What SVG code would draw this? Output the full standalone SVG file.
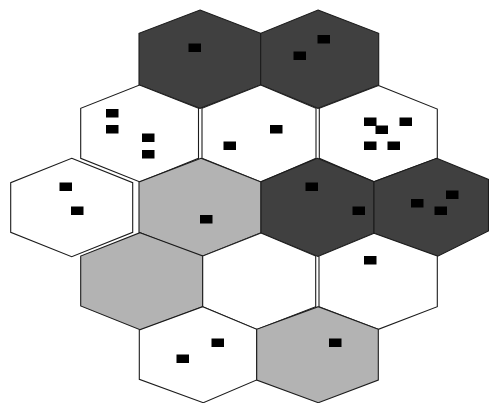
<svg xmlns="http://www.w3.org/2000/svg" width="489" height="403" viewBox="0 0 489 403">
<style>
.hex{stroke:#1c1c1c;stroke-width:1.1;stroke-linejoin:miter}
.dark{fill:#404040}
.gray{fill:#b3b3b3}
.white{fill:#ffffff}
.box{fill:#000000}
</style>
<rect width="489" height="403" fill="#ffffff"/>
<g id="hexA"><polygon class="hex dark" points="200,10 260.7,33.3 260.7,85 200,108.3 139,85 139,33.3"/>
<rect class="box" x="188.5" y="43.5" width="12.5" height="8.5"/></g>
<g id="hexB"><polygon class="hex dark" points="318,10 378.7,33.3 378.7,85 318,108.3 260.7,85 260.7,33.3"/>
<rect class="box" x="317.5" y="35" width="12.5" height="8.5"/>
<rect class="box" x="293.5" y="51.5" width="12.5" height="8.5"/></g>
<g id="hexC"><polygon class="hex white" points="139.5,85 198.5,108.3 198.5,158.3 140,182 80.7,158.3 80.7,108.3"/>
<rect class="box" x="106" y="109" width="12.5" height="8.5"/>
<rect class="box" x="106" y="125" width="12.5" height="8.5"/>
<rect class="box" x="142" y="133.5" width="12.5" height="8.5"/>
<rect class="box" x="142" y="150" width="12.5" height="8.5"/></g>
<g id="hexD"><polygon class="hex white" points="260.7,85 316,108.3 316,158.3 261,182 202,158.3 202,108.3"/>
<rect class="box" x="223.5" y="141.5" width="12.5" height="8.5"/>
<rect class="box" x="270" y="125" width="12.5" height="8.5"/></g>
<g id="hexE"><polygon class="hex white" points="378.5,85.5 437.3,109 437.3,158.3 374,181.7 319.3,158.3 319.3,108.3"/>
<rect class="box" x="364" y="117.5" width="12.5" height="8.5"/>
<rect class="box" x="399.5" y="117.5" width="12.5" height="8.5"/>
<rect class="box" x="375.5" y="125.5" width="12.5" height="8.5"/>
<rect class="box" x="364" y="141.5" width="12.5" height="8.5"/>
<rect class="box" x="387.5" y="141.5" width="12.5" height="8.5"/></g>
<g id="hexF"><polygon class="hex white" points="71.7,158.3 132.7,182.7 132.7,232.3 71.7,256.7 10.7,232.3 10.7,182.7"/>
<rect class="box" x="59.5" y="182.5" width="12.5" height="8.5"/>
<rect class="box" x="71" y="206.5" width="12.5" height="8.5"/></g>
<g id="hexG"><polygon class="hex gray" points="201,158.3 261,182 261,232.7 201,256.7 139,232.3 139,182"/>
<rect class="box" x="200" y="215" width="12.5" height="8.5"/></g>
<g id="hexH"><polygon class="hex dark" points="317.3,158.3 374,181.7 374,233.3 318,256.5 261,233.3 261,181.7"/>
<rect class="box" x="305.5" y="182.5" width="12.5" height="8.5"/>
<rect class="box" x="352.5" y="206.5" width="12.5" height="8.5"/></g>
<g id="hexI"><polygon class="hex dark" points="436.7,158.3 488.5,179.5 488.5,231 436.7,256.7 374,233.3 374,181.7"/>
<rect class="box" x="446" y="190.5" width="12.5" height="8.5"/>
<rect class="box" x="411" y="199" width="12.5" height="8.5"/>
<rect class="box" x="434.5" y="206.5" width="12.5" height="8.5"/></g>
<g id="hexJ"><polygon class="hex gray" points="140,232.7 202.7,256 202.7,306.7 140.7,330 80.7,306 80.7,256"/></g>
<g id="hexK"><polygon class="hex white" points="261,233 315.7,256 315.7,306.7 257,329.5 202.7,306.7 202.7,256"/></g>
<g id="hexL"><polygon class="hex white" points="374,233.3 437.3,256 437.3,306.7 378.3,329.3 319,306.7 319,256"/>
<rect class="box" x="364" y="256" width="12.5" height="8.5"/></g>
<g id="hexM"><polygon class="hex white" points="202.7,306.7 256.7,329.3 256.7,380 203.3,402.7 139.3,379.3 139.3,330"/>
<rect class="box" x="211.5" y="338.5" width="12.5" height="8.5"/>
<rect class="box" x="176.5" y="354.5" width="12.5" height="8.5"/></g>
<g id="hexN"><polygon class="hex gray" points="318.3,306.7 378.3,329.3 378.3,380 318.3,402.7 256.7,380 256.7,329.3"/>
<rect class="box" x="329" y="338.5" width="12.5" height="8.5"/></g>
<g id="connectors"/>
</svg>
